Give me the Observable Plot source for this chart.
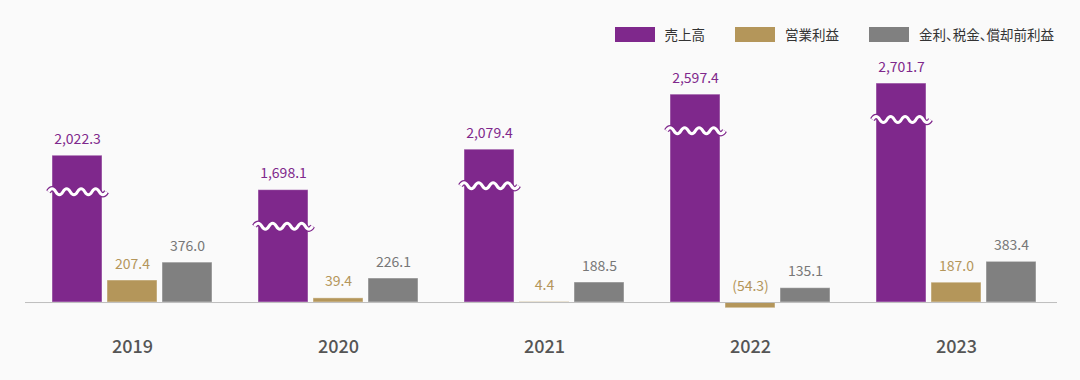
<!DOCTYPE html>
<html>
<head>
<meta charset="utf-8">
<script src="https://cdn.jsdelivr.net/npm/d3@7"></script>
<script src="https://cdn.jsdelivr.net/npm/@observablehq/plot@0.6"></script>
<style>
  html, body { margin: 0; padding: 0; background: #fafafa; }
  body { width: 1080px; height: 380px; overflow: hidden; font-family: "Noto Sans CJK JP", "Noto Sans", sans-serif; }
  #legend { height: 60px; box-sizing: border-box; display: flex; justify-content: flex-end; align-items: flex-start; padding-top: 27px; padding-right: 26px; font-size: 13.5px; color: #333; }
  .item { display: flex; align-items: center; margin-left: 30px; }
  .item:first-child { margin-left: 0; }
  .sw { width: 40px; height: 15px; margin-right: 10px; }
  .lbl { line-height: 15px; }
  .lbl.p { font-feature-settings: "palt"; }
  #chart svg { display: block; background: transparent; }
</style>
</head>
<body>
<div id="legend"></div>
<div id="chart"></div>
<script>
// ---- data ----
const years = ["2019", "2020", "2021", "2022", "2023"];
const seriesNames = ["売上高", "営業利益", "金利、税金、償却前利益"];
const sales = [2022.3, 1698.1, 2079.4, 2597.4, 2701.7];
const operatingIncome = [207.4, 39.4, 4.4, -54.3, 187.0];
const ebitda = [376.0, 226.1, 188.5, 135.1, 383.4];
// amount removed from the sales bars by the axis break
const breakAmount = 640;

const colors = ["#7f288c", "#b4965a", "#808080"];
const labelColors = ["#7f288c", "#b4965a", "#777777"];

// ---- legend ----
const legend = document.getElementById("legend");
seriesNames.forEach((name, i) => {
  const it = document.createElement("div");
  it.className = "item";
  it.innerHTML = `<span class="sw" style="background:${colors[i]}"></span><span class="lbl${i === 2 ? " p" : ""}">${name}</span>`;
  legend.appendChild(it);
});

// ---- table ----
const seriesValues = [sales, operatingIncome, ebitda];
const rows = [];
seriesValues.forEach((vals, s) => {
  vals.forEach((v, i) => {
    rows.push({
      year: years[i],
      series: s,
      value: v,
      display: s === 0 ? v - breakAmount : v
    });
  });
});
const fmt = d3.format(",.1f");
const label = d => d.value < 0 ? `(${fmt(-d.value)})` : fmt(d.value);

const insets = [
  {insetLeft: 0, insetRight: 110, dx: -55},
  {insetLeft: 55, insetRight: 55, dx: 0},
  {insetLeft: 110, insetRight: 0, dx: 55}
];

// wavy break symbol
const wave = {
  draw(context) {
    const w = 58, n = 8, a = 3;
    const step = w / n;
    let x = -w / 2;
    context.moveTo(x, 0);
    for (let k = 0; k < n; k++) {
      const cy = (k % 2 === 0 ? -2 : 2) * a;
      context.quadraticCurveTo(x + step / 2, cy, x + step, 0);
      x += step;
    }
  }
};

const marks = [];
[0, 1, 2].forEach(s => {
  const data = rows.filter(d => d.series === s);
  marks.push(Plot.barY(data, {
    x: "year", y: "display", fill: colors[s],
    insetLeft: insets[s].insetLeft, insetRight: insets[s].insetRight,
    stroke: "white", strokeOpacity: 0.45, strokeWidth: 1
  }));
  marks.push(Plot.text(data, {
    x: "year", y: d => Math.max(d.display, 0), text: label,
    dx: insets[s].dx, dy: -12, lineAnchor: "bottom",
    fill: labelColors[s], fontSize: 14
  }));
});
const salesRows = rows.filter(d => d.series === 0);
marks.push(Plot.dot(salesRows, {x: "year", y: "display", dx: -55, dy: 36, symbol: wave, fill: "none", stroke: colors[0], strokeWidth: 5.5}));
marks.push(Plot.dot(salesRows, {x: "year", y: "display", dx: -55, dy: 36, symbol: wave, fill: "none", stroke: "white", strokeWidth: 3}));
marks.push(Plot.ruleY([0], {stroke: "#bdbdbd", strokeWidth: 1}));
marks.push(Plot.text(years, {x: d => d, frameAnchor: "bottom", dy: 30, fontSize: 18, fontWeight: 500, fill: "#555"}));

const chart = Plot.plot({
  width: 1080,
  height: 320,
  marginLeft: 25,
  marginRight: 23,
  marginTop: 10,
  marginBottom: 58,
  style: {fontFamily: '"Noto Sans CJK JP", "Noto Sans", sans-serif', background: "transparent", overflow: "visible"},
  x: {domain: years, paddingInner: 0.225, paddingOuter: 0.111, align: 0.565, axis: null},
  y: {domain: [-188, 2184.6], axis: null},
  marks
});
document.getElementById("chart").appendChild(chart);
</script>
</body>
</html>
